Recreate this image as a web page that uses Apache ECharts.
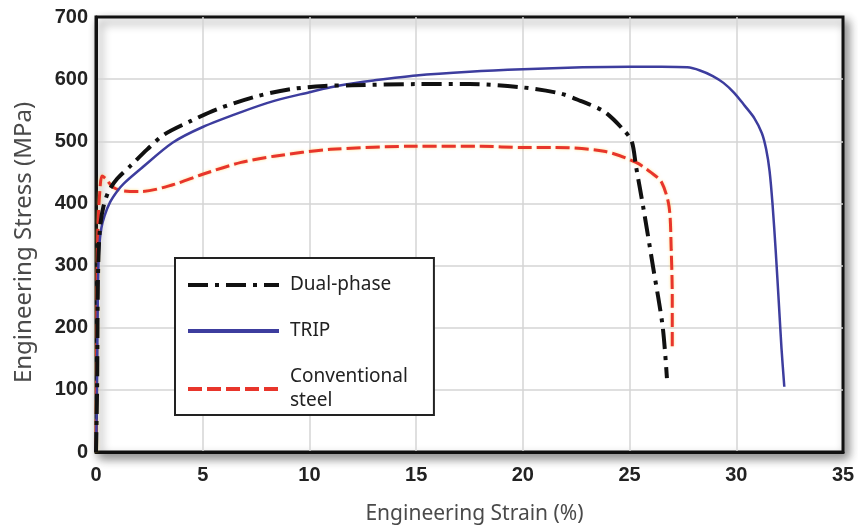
<!DOCTYPE html>
<html>
<head>
<meta charset="utf-8">
<script src="https://cdn.jsdelivr.net/npm/echarts@6/dist/echarts.min.js"></script>
<style>
html,body{margin:0;padding:0;background:#fff;}
#chart{width:858px;height:531px;}
</style>
</head>
<body>
<div id="chart"></div>
<script>
// Axis ticks
const xTicks = [0, 5, 10, 15, 20, 25, 30, 35];
const yTicks = [0, 100, 200, 300, 400, 500, 600, 700];
const seriesNames = ['Dual-phase', 'TRIP', 'Conventional steel'];

// Dual-phase
const dualStrain = [0,0.05,0.08,0.12,0.2,0.35,0.6,1.0,1.6,2.4,3.2,4.4,5.7,7.6,9.15,10.7,12,15,17.5,19.9,21.75,22.7,23.8,24.7,25.1,25.3,25.66,26.1,26.55,26.75];
const dualStress = [0,100,250,320,365,395,420,440,460,487,511,532,552,573,584,589,590,592,592,587,577,565,548,519,500,460,390,298,202,119];

// TRIP
const tripStrain = [0,0.04,0.07,0.1,0.15,0.25,0.4,0.66,1.0,1.3,2.07,3.6,5,6.8,8.35,10,11,12,13,15,17.5,20,22.8,25,26.5,27.7,28.3,28.9,29.4,29.9,30.4,30.85,31.2,31.4,31.56,31.7,31.85,32.0,32.12,32.25];
const tripStress = [0,80,200,280,330,360,380,402,420,432,455,498,523,547,565,579,587,593,598,606,612,616,619,620,620,619,614,605,594,578,557,537,513,487,452,398,322,236,166,105];

// Conventional steel
const convStrain = [0,0.03,0.06,0.1,0.18,0.28,0.45,0.8,1.3,2.07,3.6,5,6.8,8.35,11,15,18,20,21.4,23.8,25.3,26,26.5,26.85,26.95,27.0,27.0];
const convStress = [0,150,300,370,420,444,440,426,420,419,430,447,466,476,487,492,492,490,490,484,466,450,434,395,326,250,165];

function pairs(xs, ys) { return xs.map((x, i) => [x, ys[i]]); }

const chart = echarts.init(document.getElementById('chart'), null, {renderer: 'canvas'});
const tickFont = {fontFamily: '"Liberation Sans", Arial, sans-serif', fontWeight: 'bold', fontSize: 20, color: '#222'};

chart.setOption({
  animation: false,
  backgroundColor: '#fff',
  grid: {
    left: 96, right: 15, top: 17, bottom: 79,
    show: true,
    backgroundColor: '#fff',
    borderColor: '#111',
    borderWidth: 3,
    shadowColor: 'rgba(0,0,0,0.45)',
    shadowBlur: 10,
    shadowOffsetX: 4,
    shadowOffsetY: 5
  },
  xAxis: {
    type: 'value',
    min: xTicks[0], max: xTicks[xTicks.length - 1], interval: 5,
    name: 'Engineering Strain (%)',
    nameLocation: 'middle',
    nameGap: 52,
    nameTextStyle: {fontFamily: '"Noto Sans", sans-serif', fontSize: 21, color: '#4a4a4a', padding: [0, 0, 0, 10]},
    axisLine: {show: true, lineStyle: {color: '#111', width: 3}},
    axisTick: {show: false},
    axisLabel: Object.assign({margin: 13}, tickFont),
    splitLine: {show: true, showMinLine: false, showMaxLine: false, lineStyle: {color: '#d4d4d4', width: 1.5}}
  },
  yAxis: {
    type: 'value',
    min: yTicks[0], max: yTicks[yTicks.length - 1], interval: 100,
    name: 'Engineering Stress (MPa)',
    nameLocation: 'middle',
    nameGap: 60,
    nameTextStyle: {fontFamily: '"Noto Sans", sans-serif', fontSize: 24, color: '#4a4a4a', padding: [0, 16, 0, 0]},
    axisLine: {show: true, lineStyle: {color: '#111', width: 3}},
    axisTick: {show: false},
    axisLabel: Object.assign({margin: 8}, tickFont),
    splitLine: {show: true, showMinLine: false, showMaxLine: false, lineStyle: {color: '#d4d4d4', width: 1.5}}
  },
  legend: {
    orient: 'vertical',
    left: 175, top: 258,
    padding: [15, 26, 2, 11],
    itemGap: 22,
    itemWidth: 91,
    itemHeight: 14,
    backgroundColor: '#fff',
    borderColor: '#222',
    borderWidth: 2,
    itemStyle: {opacity: 0},
    lineStyle: {width: 4},
    data: seriesNames,
    formatter: function (name) { return name === 'Conventional steel' ? 'Conventional\nsteel' : name; },
    textStyle: {fontFamily: '"Noto Sans", sans-serif', fontSize: 19, color: '#222', lineHeight: 24, padding: [0, 0, 0, 6]}
  },
  series: [
    {
      name: seriesNames[0], type: 'line', symbol: 'none', smooth: 0.3, z: 4,
      data: pairs(dualStrain, dualStress),
      lineStyle: {color: '#111', width: 4, type: [20, 7, 4, 7]},
      itemStyle: {color: '#111'}
    },
    {
      name: seriesNames[1], type: 'line', symbol: 'none', smooth: 0.3, z: 3,
      data: pairs(tripStrain, tripStress),
      lineStyle: {color: '#3d3d9e', width: 2.5},
      itemStyle: {color: '#3d3d9e'}
    },
    {
      name: seriesNames[2], type: 'line', symbol: 'none', smooth: 0.3, z: 2,
      data: pairs(convStrain, convStress),
      lineStyle: {color: '#e8352b', width: 3, type: [14, 5], shadowColor: 'rgba(255,200,60,0.6)', shadowBlur: 3},
      itemStyle: {color: '#e8352b'}
    }
  ]
});
</script>
</body>
</html>
